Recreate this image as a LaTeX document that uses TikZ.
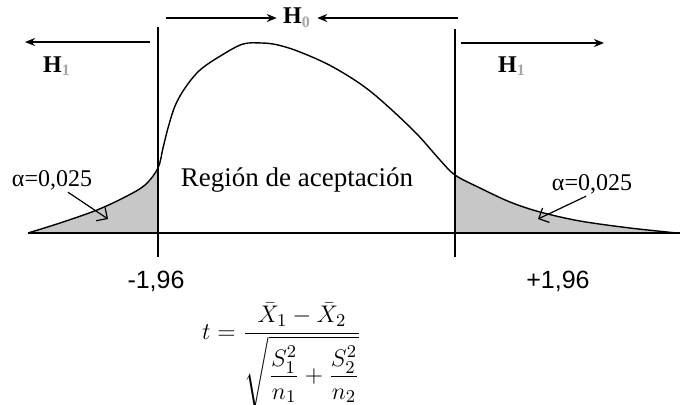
\documentclass[tikz,border=0pt]{standalone}
\usepackage{amsmath}
\usepackage{fontspec}
\setmainfont{Liberation Serif}
\newfontfamily\critfont{Liberation Sans}
\usetikzlibrary{arrows, arrows.meta, positioning}
\tikzstyle{arrow} = [thick,->,>=stealth]
\newcommand{\hyp}[1]{H\textsubscript{\textcolor{black!35}{#1}}}
\def\tcurve{plot[smooth, tension=0.55] coordinates {(28,233) (60,223) (97,210) (125,197) (145,185) (158,168)
    (163,148) (168,128) (175,106) (185,88) (200,70) (222,55) (243,44) (262,43) (278,45) (300,52)
    (333,67) (370,91) (413,130) (440,160) (455,175) (480,188) (510,202) (540,212) (580,221)
    (630,228) (677,233)}}

\begin{document}
\begin{tikzpicture}[x=0.5pt, y=-0.5pt,
    harrow/.style={line width=1.2pt, -{Stealth[length=5pt, width=4pt]}},
    hlabel/.style={font=\fontsize{12}{14}\selectfont\bfseries, inner sep=3pt},
    bound/.style={line width=1.1pt},
    tail/.style={fill=black!22},
    curve/.style={line width=0.7pt},
    axis/.style={line width=0.8pt},
    alabel/.style={font=\fontsize{12}{14}\selectfont, inner sep=1pt},
    aarrow/.style={line width=0.6pt, -{Straight Barb[length=4pt]}},
    crit/.style={font=\critfont\fontsize{12.5}{15}\selectfont}
]
\useasboundingbox (0,0) rectangle (687,404);

% Shaded tails
\begin{scope}
  \clip (0,0) rectangle (158,240);
  \fill[tail] \tcurve -- cycle;
\end{scope}
\begin{scope}
  \clip (455,0) rectangle (687,240);
  \fill[tail] \tcurve -- cycle;
\end{scope}

% Axis and density curve
\coordinate (ax0) at (28,233);
\coordinate (ax1) at (680,233);
\draw[axis] (ax0) -- (ax1);
\draw[curve] \tcurve;

% Critical values
\coordinate (lt) at (158,27);
\coordinate (lb) at (158,257);
\coordinate (rt) at (455,29);
\coordinate (rb) at (455,257);
\draw[bound] (lt) -- (lb);
\draw[bound] (rt) -- (rb);
\node[crit] (cl) at (156,281) {-1,96};
\node[crit] (cr) at (558,281) {+1,96};

% Hypotheses
\node[hlabel] (h0) at (297,18) {\hyp{0}};
\coordinate (h0a) at (166,18);
\coordinate (h0b) at (458,18);
\draw[harrow] (h0a) -- (h0);
\draw[harrow] (h0b) -- (h0);

\node[hlabel] (h1l) at (57,66) {\hyp{1}};
\node[hlabel] (h1r) at (512,66) {\hyp{1}};
\coordinate (h1a) at (150,42);
\coordinate (h1b) at (25,42);
\coordinate (h1c) at (461,43);
\coordinate (h1d) at (604,43);
\draw[harrow] (h1a) -- (h1b);
\draw[harrow] (h1c) -- (h1d);

% Regions
\node[font=\fontsize{13.5}{16}\selectfont] (acc) at (297,180) {Región de aceptación};
\node[alabel] (al) at (52,180) {α=0,025};
\node[alabel] (ar) at (592,184) {α=0,025};
\coordinate (atl) at (108,219);
\coordinate (atr) at (538,219);
\draw[aarrow] ([xshift=8pt]al.south) -- (atl);
\draw[aarrow] ([xshift=-3pt]ar.south) -- (atr);

% Statistic
\node[anchor=base, font=\fontsize{12.5}{15}\selectfont] (tstat) at (282,339)
    {$t=\dfrac{\bar X_1-\bar X_2}{\sqrt{\dfrac{S_1^2}{n_1}+\dfrac{S_2^2}{n_2}}}$};
\end{tikzpicture}
\end{document}
